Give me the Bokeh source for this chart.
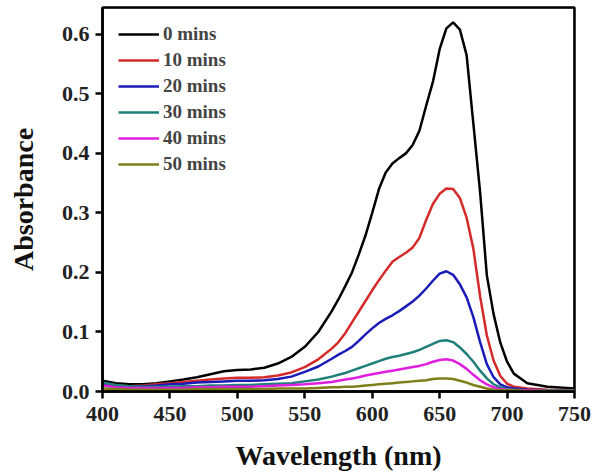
from bokeh.plotting import figure
from bokeh.models import FixedTicker, PrintfTickFormatter, Legend, LegendItem, Range1d, BoxAnnotation
from bokeh.embed import file_html
from bokeh.resources import INLINE

wavelength = [400, 410, 420, 430, 440, 450, 460, 470, 480, 490, 500, 510, 520, 530, 540, 550, 560, 570,
              575, 580, 585, 590, 595, 600, 605, 610, 615, 620, 625, 630, 635, 640, 645, 650, 655, 660,
              665, 670, 675, 680, 685, 690, 695, 700, 705, 715, 730, 750]

abs_0 = [.018, .014, .012, .012, .014, .017, .020, .024, .029, .034, .036, .037, .040, .047, .058, .075, .100, .135,
         .155, .177, .200, .230, .262, .300, .340, .368, .383, .392, .400, .414, .438, .480, .520, .575, .610, .620,
         .608, .565, .450, .335, .195, .130, .082, .050, .030, .014, .008, .005]
abs_10 = [.013, .010, .009, .010, .012, .014, .016, .018, .020, .022, .023, .023, .024, .027, .032, .041, .054, .072,
          .083, .098, .116, .134, .152, .170, .187, .203, .218, .226, .233, .242, .258, .288, .315, .332, .341, .340,
          .325, .292, .240, .160, .094, .052, .026, .013, .008, .005, .003, .002]
abs_20 = [.012, .009, .008, .009, .010, .012, .013, .015, .016, .017, .018, .018, .019, .021, .025, .033, .042, .055,
          .062, .068, .075, .085, .096, .106, .115, .122, .128, .135, .143, .151, .161, .173, .186, .198, .202, .196,
          .180, .158, .125, .083, .046, .024, .012, .007, .005, .003, .002, .002]
abs_30 = [.015, .011, .009, .008, .008, .008, .009, .009, .010, .010, .011, .011, .012, .013, .014, .017, .020, .025,
          .028, .031, .035, .039, .043, .047, .051, .055, .058, .060, .063, .066, .070, .075, .080, .085, .086, .083,
          .074, .063, .050, .035, .022, .012, .007, .004, .003, .002, .002, .002]
abs_40 = [.010, .007, .006, .006, .006, .006, .006, .007, .007, .008, .008, .008, .009, .010, .011, .012, .014, .016,
          .018, .020, .022, .024, .027, .029, .031, .033, .035, .037, .039, .041, .043, .046, .050, .053, .054, .052,
          .046, .038, .028, .019, .012, .007, .004, .003, .002, .002, .001, .001]
abs_50 = [.005, .004, .003, .003, .003, .003, .003, .004, .004, .004, .004, .004, .004, .005, .005, .005, .006, .007,
          .007, .008, .008, .009, .010, .011, .012, .013, .014, .015, .016, .017, .018, .019, .021, .022, .022, .021,
          .018, .015, .011, .008, .005, .003, .002, .002, .002, .001, .001, .001]

labels = ["0 mins", "10 mins", "20 mins", "30 mins", "40 mins", "50 mins"]
series = [abs_0, abs_10, abs_20, abs_30, abs_40, abs_50]
colors = ["#000000", "#d42a2a", "#1a1ab8", "#1f7f7a", "#e01ee0", "#7f7f1a"]

x_ticks = [400, 450, 500, 550, 600, 650, 700, 750]
y_ticks = [0.0, 0.1, 0.2, 0.3, 0.4, 0.5, 0.6]

FONT = "Liberation Serif"

p = figure(width=601, height=473, output_backend="svg", toolbar_location=None,
           x_range=Range1d(400, 750), y_range=Range1d(0, 0.645),
           min_border_left=102, min_border_right=27, min_border_top=7, min_border_bottom=82)

renderers = []
for ys, c in zip(series, colors):
    r = p.line(wavelength, ys, line_color=c, line_width=2.5)
    renderers.append(r)

p.grid.visible = False
p.outline_line_color = "black"
p.outline_line_width = 2.5
p.add_layout(BoxAnnotation(fill_alpha=0, line_color="black", line_width=2.5, level="overlay"))

for ax in (p.xaxis[0], p.yaxis[0]):
    ax.axis_line_width = 2.5
    ax.major_tick_line_width = 2.5
    ax.major_tick_out = 7
    ax.major_tick_in = 0
    ax.minor_tick_line_color = None
    ax.major_label_text_font = FONT
    ax.major_label_text_font_style = "bold"
    ax.major_label_text_font_size = "22px"
    ax.major_label_text_color = "#222222"
    ax.axis_label_text_font = FONT
    ax.axis_label_text_font_style = "bold"
    ax.axis_label_text_font_size = "28px"
    ax.axis_label_text_color = "#111111"

p.xaxis.ticker = FixedTicker(ticks=x_ticks)
p.yaxis.ticker = FixedTicker(ticks=y_ticks)
p.yaxis.formatter = PrintfTickFormatter(format="%.1f")
p.xaxis.axis_label = "Wavelength (nm)"
p.yaxis.axis_label = "Absorbance"
p.xaxis.major_label_standoff = 8
p.yaxis.major_label_standoff = 6
p.xaxis.axis_label_standoff = 16
p.yaxis.axis_label_standoff = 20

legend = Legend(items=[LegendItem(label=l, renderers=[r]) for l, r in zip(labels, renderers)],
                location="top_left")
legend.border_line_color = None
legend.background_fill_alpha = 0
legend.label_text_font = FONT
legend.label_text_font_style = "bold"
legend.label_text_font_size = "19px"
legend.glyph_width = 41
legend.glyph_height = 20
legend.label_height = 20
legend.spacing = 4
legend.label_standoff = 4
legend.margin = 16
legend.padding = 8
p.add_layout(legend)

open("out.html", "w").write(file_html(p, INLINE))
